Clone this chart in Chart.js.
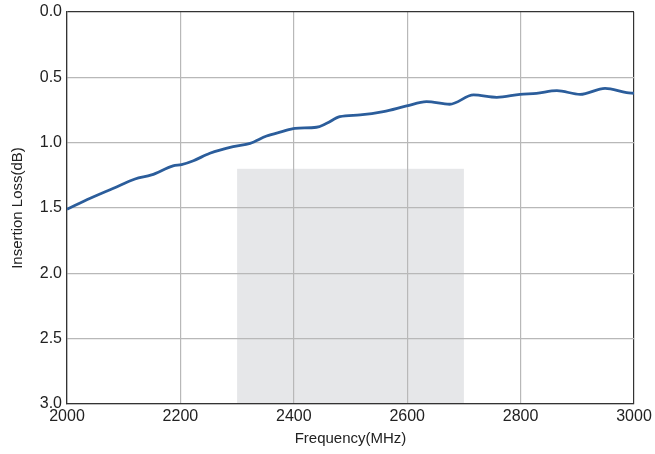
<!DOCTYPE html>
<html><head><meta charset="utf-8">
<script src="https://cdn.jsdelivr.net/npm/chart.js@4/dist/chart.umd.min.js"></script>
<style>html,body{margin:0;padding:0;background:#fff}#wrap{width:655px;height:454px}</style>
</head><body><div id="wrap"><canvas id="c" width="655" height="454"></canvas></div>
<script>
const freqMHz = [2000,2041,2082,2120,2149,2187,2202,2223,2252,2293,2323,2352,2379,2402,2440,2458,2481,2517,2558,2599,2634,2675,2717,2758,2799,2828,2864,2905,2949,2987,3000];
const lossDb  = [1.51,1.425,1.349,1.278,1.247,1.178,1.168,1.138,1.081,1.030,1.005,0.949,0.916,0.890,0.882,0.852,0.801,0.788,0.763,0.719,0.686,0.706,0.635,0.653,0.630,0.622,0.602,0.630,0.584,0.617,0.622];
const bandStart = 2300, bandEnd = 2700, bandTop = 1.2, bandBottom = 3.0;
const xMin = 2000, xMax = 3000, xStep = 200;
const yMin = 0, yMax = 3, yStep = 0.5;

const bandPlugin = {
  id: 'band',
  beforeDraw(chart) {
    const {ctx, scales: {x, y}} = chart;
    const x0 = x.getPixelForValue(bandStart), x1 = x.getPixelForValue(bandEnd);
    const y0 = y.getPixelForValue(bandTop), y1 = y.getPixelForValue(bandBottom);
    ctx.save();
    ctx.fillStyle = '#e6e7e9';
    ctx.fillRect(x0, y0, x1 - x0, y1 - y0);
    ctx.restore();
  }
};

const font = {family: "'Liberation Sans', Arial, sans-serif", size: 16};
new Chart(document.getElementById('c'), {
  type: 'line',
  data: { datasets: [{
    data: freqMHz.map((f, i) => ({x: f, y: lossDb[i]})),
    borderColor: '#2b5d9b', borderWidth: 2.8, pointRadius: 0, tension: 0.4,
    cubicInterpolationMode: 'monotone', fill: false
  }]},
  options: {
    responsive: false, animation: false, devicePixelRatio: 1,
    layout: {padding: {top: 12, right: 21, left: 5, bottom: 2}},
    plugins: {legend: {display: false}, tooltip: {enabled: false}},
    scales: {
      x: {
        type: 'linear', min: xMin, max: xMax,
        ticks: {stepSize: xStep, color: '#222', font, padding: 3, maxRotation: 0, callback: v => String(v)},
        grid: {color: c => c.tick && c.tick.value === xMax ? '#333' : '#b8b8b8', lineWidth: 1.2, drawTicks: false},
        border: {color: '#333', width: 1.3},
        title: {display: true, text: 'Frequency(MHz)', color: '#222', font: {family: font.family, size: 15}, padding: {top: 0}},
        afterFit: s => { s.height = 48; }
      },
      y: {
        type: 'linear', min: yMin, max: yMax, reverse: true,
        ticks: {stepSize: yStep, color: '#222', font, padding: 5, callback: v => v.toFixed(1)},
        grid: {color: c => c.tick && c.tick.value === yMin ? '#333' : '#b8b8b8', lineWidth: 1.2, drawTicks: false},
        border: {color: '#333', width: 1.3},
        title: {display: true, text: 'Insertion Loss(dB)', color: '#222', font: {family: font.family, size: 15}, padding: {bottom: 2}},
        afterFit: s => { s.width = 62; s.paddingTop = 0; s.paddingBottom = 0; }
      }
    }
  },
  plugins: [bandPlugin]
});
</script></body></html>
